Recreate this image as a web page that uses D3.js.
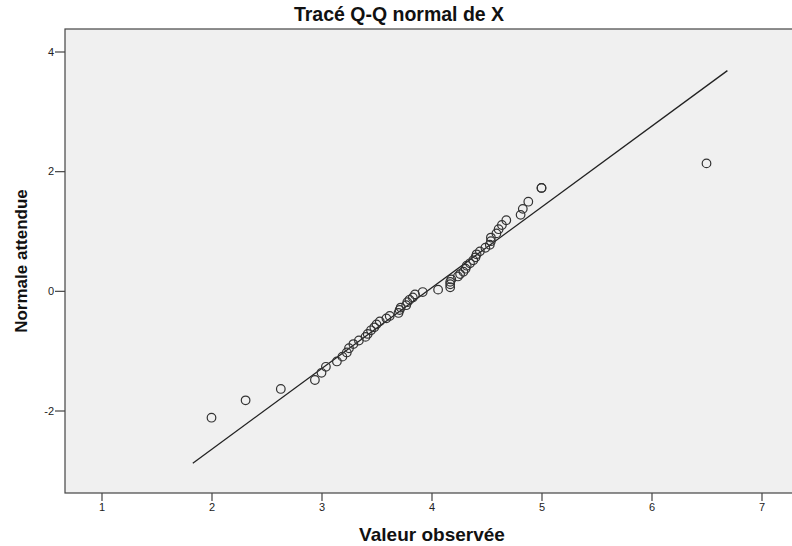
<!DOCTYPE html>
<html>
<head>
<meta charset="utf-8">
<script src="https://cdn.jsdelivr.net/npm/d3@7"></script>
<style>
  html, body { margin: 0; padding: 0; background: #ffffff; }
  svg { display: block; font-family: "Liberation Sans", Arial, sans-serif; }
</style>
</head>
<body>
<svg id="chart" width="792" height="546"></svg>
<script>
// ---- data ----
const titleText = "Tracé Q-Q normal de X";
const xLabel = "Valeur observée";
const yLabel = "Normale attendue";
const xTicks = [1, 2, 3, 4, 5, 6, 7];
const yTicks = [-2, 0, 2, 4];

// observed values (sorted)
const observed = [
  2.00, 2.31, 2.63, 2.94, 3.00, 3.04, 3.14, 3.19, 3.23, 3.25,
  3.29, 3.34, 3.40, 3.42, 3.45, 3.48, 3.50, 3.53, 3.59, 3.62,
  3.70, 3.71, 3.72, 3.77, 3.78, 3.80, 3.83, 3.85, 3.92, 4.06,
  4.17, 4.17, 4.17, 4.18, 4.24, 4.26, 4.29, 4.31, 4.32, 4.35,
  4.38, 4.40, 4.41, 4.44, 4.49, 4.53, 4.54, 4.54, 4.59, 4.61,
  4.64, 4.68, 4.81, 4.83, 4.88, 5.00, 5.00, 6.50
];
// expected normal values
const expected = [
  -2.12, -1.83, -1.64, -1.49, -1.37, -1.27, -1.18, -1.10, -1.03, -0.96,
  -0.89, -0.83, -0.77, -0.72, -0.66, -0.61, -0.56, -0.51, -0.46, -0.42,
  -0.37, -0.32, -0.28, -0.24, -0.19, -0.15, -0.11, -0.06, -0.02, 0.02,
  0.06, 0.11, 0.15, 0.19, 0.24, 0.28, 0.32, 0.37, 0.42, 0.46,
  0.51, 0.56, 0.61, 0.66, 0.72, 0.77, 0.83, 0.89, 0.96, 1.03,
  1.10, 1.18, 1.27, 1.37, 1.49, 1.72, 1.72, 2.13
];
// reference line endpoints
const lineX = [1.83, 6.69];
const lineY = [-2.88, 3.68];

// ---- layout ----
const svg = d3.select("#chart");
const plot = { left: 65, top: 29, right: 800, bottom: 493 };

const x = d3.scaleLinear().domain([1, 7]).range([101.5, 761.5]);
const y = d3.scaleLinear().domain([-2, 4]).range([410.5, 51.5]);

// plot background
svg.append("rect")
  .attr("x", plot.left).attr("y", plot.top)
  .attr("width", plot.right - plot.left).attr("height", plot.bottom - plot.top)
  .attr("fill", "#f0f0f0")
  .attr("stroke", "#444").attr("stroke-width", 1.2);

// title
svg.append("text")
  .attr("x", 399).attr("y", 20.5)
  .attr("text-anchor", "middle")
  .attr("font-size", 19.5).attr("font-weight", "bold").attr("fill", "#111")
  .text(titleText);

const plainInt = d => String(d);

// x axis
const xAxis = d3.axisBottom(x).tickValues(xTicks).tickSize(8).tickPadding(2).tickFormat(plainInt);
const gx = svg.append("g").attr("transform", `translate(0,${plot.bottom})`).call(xAxis);
gx.select(".domain").remove();
gx.selectAll(".tick line").attr("stroke", "#444").attr("stroke-width", 1.2);
gx.selectAll(".tick text").attr("font-size", 11).attr("fill", "#222")
  .attr("font-family", "'Liberation Sans', Arial, sans-serif");

// y axis
const yAxis = d3.axisLeft(y).tickValues(yTicks).tickSize(10).tickPadding(1).tickFormat(plainInt);
const gy = svg.append("g").attr("transform", `translate(${plot.left},0)`).call(yAxis);
gy.select(".domain").remove();
gy.selectAll(".tick line").attr("stroke", "#444").attr("stroke-width", 1.2);
gy.selectAll(".tick text").attr("font-size", 11).attr("fill", "#222")
  .attr("font-family", "'Liberation Sans', Arial, sans-serif");

// axis labels
svg.append("text")
  .attr("x", 432).attr("y", 541)
  .attr("text-anchor", "middle")
  .attr("font-size", 19).attr("font-weight", "bold").attr("fill", "#111")
  .text(xLabel);

svg.append("text")
  .attr("transform", "translate(27,261) rotate(-90)")
  .attr("text-anchor", "middle")
  .attr("font-size", 17).attr("font-weight", "bold").attr("fill", "#111")
  .text(yLabel);

// reference line
const line = d3.line().x(d => x(d[0])).y(d => y(d[1]));
svg.append("path")
  .datum(lineX.map((v, i) => [v, lineY[i]]))
  .attr("d", line)
  .attr("fill", "none").attr("stroke", "#222").attr("stroke-width", 1.3);

// points
svg.append("g").selectAll("circle")
  .data(observed.map((v, i) => ({ x: v, y: expected[i] })))
  .join("circle")
  .attr("cx", d => x(d.x)).attr("cy", d => y(d.y))
  .attr("r", 4.3)
  .attr("fill", "none").attr("stroke", "#333").attr("stroke-width", 1.2);
</script>
</body>
</html>
